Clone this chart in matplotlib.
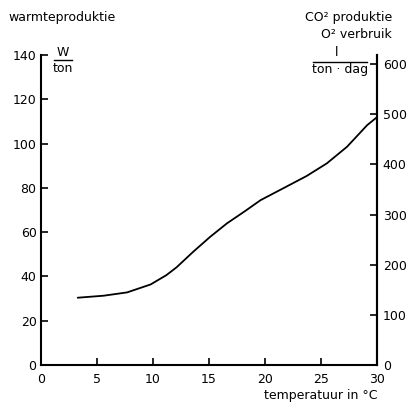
import matplotlib
matplotlib.use("Agg")
import matplotlib.pyplot as plt
from matplotlib.lines import Line2D

# Data
temperature = [3.3, 5.6, 7.7, 9.8, 11.2, 12.1, 13.6, 15.1, 16.6, 18.2, 19.6, 21.6, 23.7, 25.5, 27.3, 29.1, 30.0]
heat_production = [30.4, 31.3, 32.8, 36.4, 40.6, 44.1, 51.2, 57.9, 64.0, 69.5, 74.5, 79.8, 85.4, 91.1, 98.6, 108.4, 112.1]

x_ticks = [0, 5, 10, 15, 20, 25, 30]
left_ticks = [0, 20, 40, 60, 80, 100, 120, 140]
right_ticks = [0, 100, 200, 300, 400, 500, 600]
right_max = 618  # right-axis value at left-axis 140

plt.rcParams['font.family'] = ['DejaVu Sans']
fig = plt.figure(figsize=(4.08, 4.05), dpi=100)
ax = fig.add_axes([0.0998, 0.0988, 0.825, 0.765])

ax.plot(temperature, heat_production, color='black', lw=1.3,
        solid_joinstyle='round', solid_capstyle='round')
ax.set_xlim(0, 30)
ax.set_ylim(0, 140)
ax.set_xticks(x_ticks)
ax.set_yticks(left_ticks)
ax.tick_params(axis='both', direction='in', length=5, width=1.2, labelsize=9, pad=3)
ax.tick_params(axis='x', pad=6)
ax.spines['top'].set_visible(False)
for s in ['left', 'bottom', 'right']:
    ax.spines[s].set_linewidth(1.5)

ax2 = ax.twinx()
ax2.set_ylim(0, right_max)
ax2.set_yticks(right_ticks)
ax2.tick_params(axis='y', direction='in', length=5, width=1.2, labelsize=9, pad=4)
ax2.spines['top'].set_visible(False)
ax2.spines['left'].set_visible(False)
ax2.spines['bottom'].set_visible(False)
ax2.spines['right'].set_linewidth(1.5)

W, H = 408, 405
def ft(x, y, s, **kw):
    fig.text(x / W, 1 - y / H, s, fontsize=9, **kw)

ft(8, 17, "warmteproduktie", ha='left', va='center')
ft(392, 18, "CO² produktie", ha='right', va='center')
ft(392, 34, "O² verbruik", ha='right', va='center')
ft(378, 395, "temperatuur in °C", ha='right', va='center')

# units W/ton
ft(63, 52, "W", ha='center', va='center')
ft(63, 68, "ton", ha='center', va='center')
fig.add_artist(Line2D([54 / W, 72 / W], [1 - 60 / H, 1 - 60 / H], color='black', lw=1.0))

# units l/(ton·dag)
ft(337, 53, "l", ha='center', va='center')
ft(340, 70, "ton · dag", ha='center', va='center')
fig.add_artist(Line2D([313 / W, 367 / W], [1 - 61.5 / H, 1 - 61.5 / H], color='black', lw=1.0))

fig.savefig("out.png", dpi=100, facecolor='white')
